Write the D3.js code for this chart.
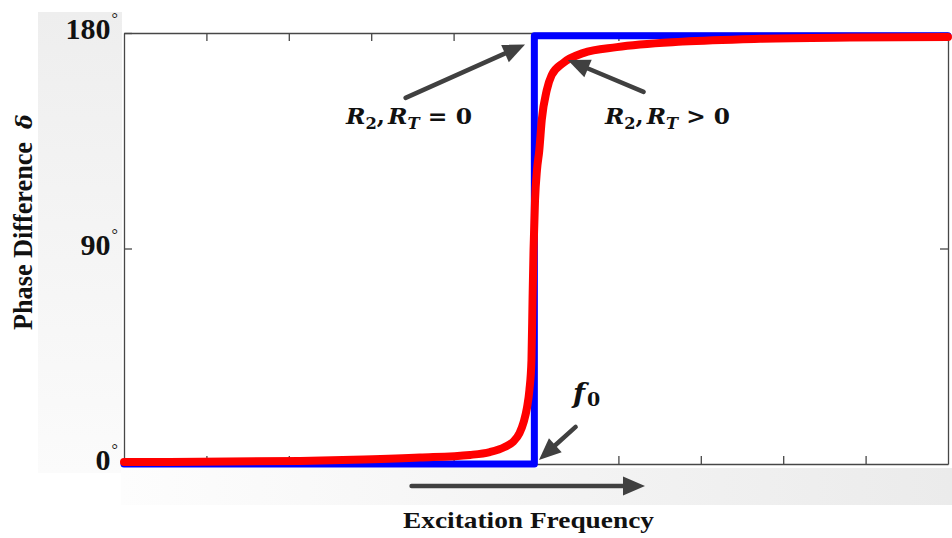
<!DOCTYPE html>
<html>
<head>
<meta charset="utf-8">
<script src="https://cdn.jsdelivr.net/npm/d3@7"></script>
<style>
  html, body { margin: 0; padding: 0; background: #ffffff; }
  svg { display: block; }
</style>
</head>
<body>
<svg id="chart" width="952" height="538"></svg>
<script>
// Excitation frequency (arbitrary units, f0 near 5) and phase difference in degrees
const freqIdeal   = [0, 4.98, 4.98, 10];
const phaseIdeal  = [0, 0, 178.8, 178.8];

const freqDamped  = [0, 0.92, 2.14, 2.91, 3.59, 4.20, 4.44, 4.62, 4.72, 4.80, 4.85, 4.89, 4.92,
                     4.945, 4.958, 4.970, 4.988, 5.012, 5.04, 5.07, 5.13, 5.19, 5.33, 5.57, 5.98,
                     6.78, 7.72, 8.81, 10];
const phaseDamped = [0.8, 0.9, 1.3, 1.9, 2.7, 3.8, 5.0, 7.1, 9.2, 12.9, 17.5, 23.4, 30.9,
                     43.4, 68.5, 89.4, 110, 122.8, 131, 143.7, 156, 162.4, 167.5, 171.6, 174.1,
                     176.4, 177.6, 178.1, 178.3];

const xTickValues = [1, 2, 3, 4, 5, 6, 7, 8, 9];
const yTickValues = [0, 90, 180];
const yTickLabels = ["0", "90", "180"];

const svg = d3.select("#chart");
const x = d3.scaleLinear().domain([0, 10]).range([124, 948]);
const y = d3.scaleLinear().domain([0, 180]).range([464, 33]);

// soft grey panels behind the axis labels
const defs = svg.append("defs");
const gLeft = defs.append("linearGradient").attr("id", "gLeft")
  .attr("x1", 0).attr("y1", 0).attr("x2", 0).attr("y2", 1);
gLeft.append("stop").attr("offset", "0%").attr("stop-color", "#eeeeee");
gLeft.append("stop").attr("offset", "100%").attr("stop-color", "#fbfbfb");
const gBottom = defs.append("linearGradient").attr("id", "gBottom")
  .attr("x1", 0).attr("y1", 0).attr("x2", 1).attr("y2", 0);
gBottom.append("stop").attr("offset", "0%").attr("stop-color", "#fdfdfd");
gBottom.append("stop").attr("offset", "100%").attr("stop-color", "#ebebeb");

svg.append("rect").attr("x", 38).attr("y", 12).attr("width", 84).attr("height", 461)
  .attr("fill", "url(#gLeft)");
svg.append("rect").attr("x", 121).attr("y", 468).attr("width", 831).attr("height", 37)
  .attr("fill", "url(#gBottom)");
svg.append("rect").attr("x", x(0)).attr("y", y(180)).attr("width", x(10) - x(0))
  .attr("height", y(0) - y(180)).attr("fill", "#ffffff");

// axes box with inward ticks
const axisColor = "#474747";
function styleAxis(g) {
  g.selectAll("path, line").attr("stroke", axisColor).attr("stroke-width", 1.3);
  g.selectAll("text").remove();
}
svg.append("g").attr("transform", `translate(0,${y(0)})`)
  .call(d3.axisBottom(x).tickValues(xTickValues).tickSizeInner(-8).tickSizeOuter(0).tickFormat(""))
  .call(styleAxis);
svg.append("g").attr("transform", `translate(0,${y(180)})`)
  .call(d3.axisTop(x).tickValues(xTickValues).tickSizeInner(-8).tickSizeOuter(0).tickFormat(""))
  .call(styleAxis);
svg.append("g").attr("transform", `translate(${x(0)},0)`)
  .call(d3.axisLeft(y).tickValues([90, 180]).tickSizeInner(-8).tickSizeOuter(0).tickFormat(""))
  .call(styleAxis);
svg.append("g").attr("transform", `translate(${x(10)},0)`)
  .call(d3.axisRight(y).tickValues([90, 180]).tickSizeInner(-8).tickSizeOuter(0).tickFormat(""))
  .call(styleAxis);

// y tick labels with degree marks
const serif = "'Liberation Serif', 'Times New Roman', serif";
const yLab = svg.append("g");
yTickValues.forEach((v, i) => {
  const t = yLab.append("text")
    .attr("x", 118).attr("y", y(v) + 6)
    .attr("text-anchor", "end")
    .attr("font-family", serif).attr("font-weight", "bold")
    .attr("font-size", 30).attr("fill", "#111");
  t.append("tspan").text(yTickLabels[i]);
  t.append("tspan").attr("font-size", 16).attr("font-weight", "normal")
    .attr("dy", -15).attr("dx", 1).text("°");
});

// curves
const line = d3.line().x(d => x(d[0])).y(d => y(d[1]));
svg.append("path")
  .datum(d3.zip(freqIdeal, phaseIdeal))
  .attr("d", line)
  .attr("fill", "none").attr("stroke", "#0000ff")
  .attr("stroke-width", 7).attr("stroke-linejoin", "round").attr("stroke-linecap", "round");
svg.append("path")
  .datum(d3.zip(freqDamped, phaseDamped))
  .attr("d", line.curve(d3.curveMonotoneX))
  .attr("fill", "none").attr("stroke", "#ff0000")
  .attr("stroke-width", 8).attr("stroke-linejoin", "round").attr("stroke-linecap", "round");

// arrows (data coordinates)
const arrowColor = "#404040";
function arrow(x0, v0, x1, v1) {
  const ax = x(x0), ay = y(v0), bx = x(x1), by = y(v1);
  const dx = bx - ax, dy = by - ay, len = Math.hypot(dx, dy);
  const ux = dx / len, uy = dy / len;
  const hl = 22, hw = 9.5;
  const baseX = bx - ux * hl, baseY = by - uy * hl;
  svg.append("line").attr("x1", ax).attr("y1", ay).attr("x2", baseX + ux * 2).attr("y2", baseY + uy * 2)
    .attr("stroke", arrowColor).attr("stroke-width", 4.5).attr("stroke-linecap", "round");
  svg.append("polygon")
    .attr("points", [[bx, by], [baseX - uy * hw, baseY + ux * hw], [baseX + uy * hw, baseY - ux * hw]]
      .map(p => p.join(",")).join(" "))
    .attr("fill", arrowColor);
}
arrow(3.417, 152.9, 4.867, 175.2);
arrow(6.306, 155.4, 5.385, 168.7);
arrow(5.481, 15.5, 5.036, 1.7);
arrow(3.49, -9.2, 6.323, -9.2);

// math annotations
const mathFont = "'DejaVu Serif', serif";
function mathLabel(xv, vv, rel, width) {
  const t = svg.append("text").attr("x", x(xv)).attr("y", y(vv))
    .attr("font-family", mathFont).attr("font-weight", "bold").attr("font-size", 23)
    .attr("fill", "#111").attr("textLength", width).attr("lengthAdjust", "spacingAndGlyphs");
  t.append("tspan").attr("font-style", "italic").text("R");
  t.append("tspan").attr("font-size", 16).attr("dy", 5).text("2");
  t.append("tspan").attr("dy", -5).text(",");
  t.append("tspan").attr("font-style", "italic").attr("dx", 3).text("R");
  t.append("tspan").attr("font-size", 16).attr("font-style", "italic").attr("dy", 5).text("T");
  t.append("tspan").attr("dy", -5).text(" " + rel + " 0");
}
mathLabel(2.694, 142.0, "=", 126);
mathLabel(5.837, 142.0, ">", 125);

const f0 = svg.append("text").attr("x", x(5.449)).attr("y", y(25.5))
  .attr("font-family", mathFont).attr("font-weight", "bold").attr("fill", "#111");
f0.append("tspan").attr("font-style", "italic").attr("font-size", 28).text("f");
f0.append("tspan").attr("font-size", 19).attr("dy", 3).attr("dx", 2).text("0");

// axis titles
svg.append("text")
  .attr("x", 403).attr("y", 528)
  .attr("font-family", serif).attr("font-weight", "bold").attr("font-size", 24)
  .attr("fill", "#111").attr("textLength", 251).attr("lengthAdjust", "spacingAndGlyphs")
  .text("Excitation Frequency");

const yt = svg.append("text")
  .attr("transform", "translate(32,330) rotate(-90)")
  .attr("font-family", serif).attr("font-weight", "bold").attr("font-size", 27).attr("fill", "#111");
yt.append("tspan").attr("textLength", 188).attr("lengthAdjust", "spacingAndGlyphs").text("Phase Difference");
yt.append("tspan").attr("dx", 13).attr("font-family", mathFont).attr("font-style", "italic")
  .attr("font-size", 22).text("δ");
</script>
</body>
</html>
